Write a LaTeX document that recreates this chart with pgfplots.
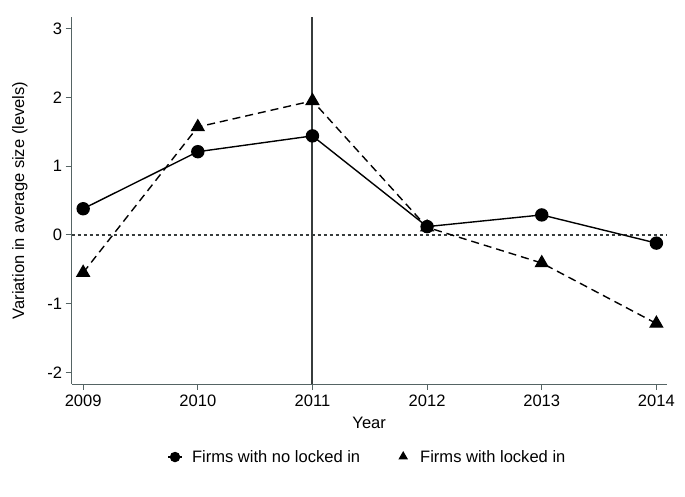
\documentclass[border=0pt]{standalone}
\usepackage{pgfplots}
\pgfplotsset{compat=1.18}
\usepackage{fontspec}
\setmainfont{Liberation Sans}
\definecolor{axgray}{RGB}{85,100,100}
\definecolor{vgray}{RGB}{55,60,60}
\begin{document}
\begin{tikzpicture}
\useasboundingbox (0,0) rectangle (685bp,497bp);
\begin{axis}[
  at={(71.7bp,113bp)}, anchor=south west,
  scale only axis, width=595bp, height=367bp,
  xmin=2008.90, xmax=2014.09, ymin=-2.17, ymax=3.17,
  axis x line*=bottom, axis y line*=left,
  axis line style={axgray, line width=1pt},
  xtick={2009,2010,2011,2012,2013,2014},
  xticklabels={2009,2010,2011,2012,2013,2014},
  ytick={-2,-1,0,1,2,3},
  yticklabels={-2,-1,0,1,2,3},
  tick align=outside, tick style={axgray, line width=0.8pt, major tick length=6bp},
  /pgf/number format/assume math mode=true,
  font=\fontsize{16.6}{19}\selectfont,
  xlabel={Year}, ylabel={Variation in average size (levels)},
  xlabel style={at={(axis description cs:0.5,-0.106)}, anchor=center},
  ylabel style={at={(axis description cs:-0.087,0.5)}, anchor=center},
  xticklabel style={yshift=-1bp},
  clip=false,
  legend columns=2,
  legend style={draw=none, at={(axis description cs:0.497,-0.199)}, anchor=center,
    /tikz/every even column/.append style={column sep=34bp}, font=\fontsize{16.6}{19}\selectfont},
  legend cell align=left,
]
\addplot[vgray, line width=2pt, forget plot] coordinates {(2011,-2.17) (2011,3.17)};
\addplot[vgray, line width=1.3pt, dash pattern=on 3bp off 3bp, forget plot] coordinates {(2008.90,0) (2014.09,0)};
\addplot[black, line width=1.4pt, mark=*, mark size=6bp,
  legend image code/.code={\path[draw=none, fill=none] (-7bp,0bp) -- (15bp,0bp); \draw[black, solid, line width=1.2pt] (-7bp,0bp) -- (7bp,0bp); \fill[black] (0bp,0bp) circle (4.5bp);}]
  coordinates {(2009,0.38) (2010,1.21) (2011,1.44) (2012,0.12) (2013,0.29) (2014,-0.12)};
\addlegendentry{Firms with no locked in}
\addplot[black, line width=1.4pt, dash pattern=on 8bp off 5bp, mark=triangle*, mark size=7bp, mark options={solid},
  legend image code/.code={\path[draw=none, fill=none] (-7bp,0bp) -- (15bp,0bp); \fill[black, draw=none] (0bp,0.5bp) +(90:5.5bp) -- +(210:5.5bp) -- +(330:5.5bp) -- cycle;}]
  coordinates {(2009,-0.55) (2010,1.57) (2011,1.95) (2012,0.11) (2013,-0.41) (2014,-1.29)};
\addlegendentry{Firms with locked in}
\end{axis}
\end{tikzpicture}
\end{document}
